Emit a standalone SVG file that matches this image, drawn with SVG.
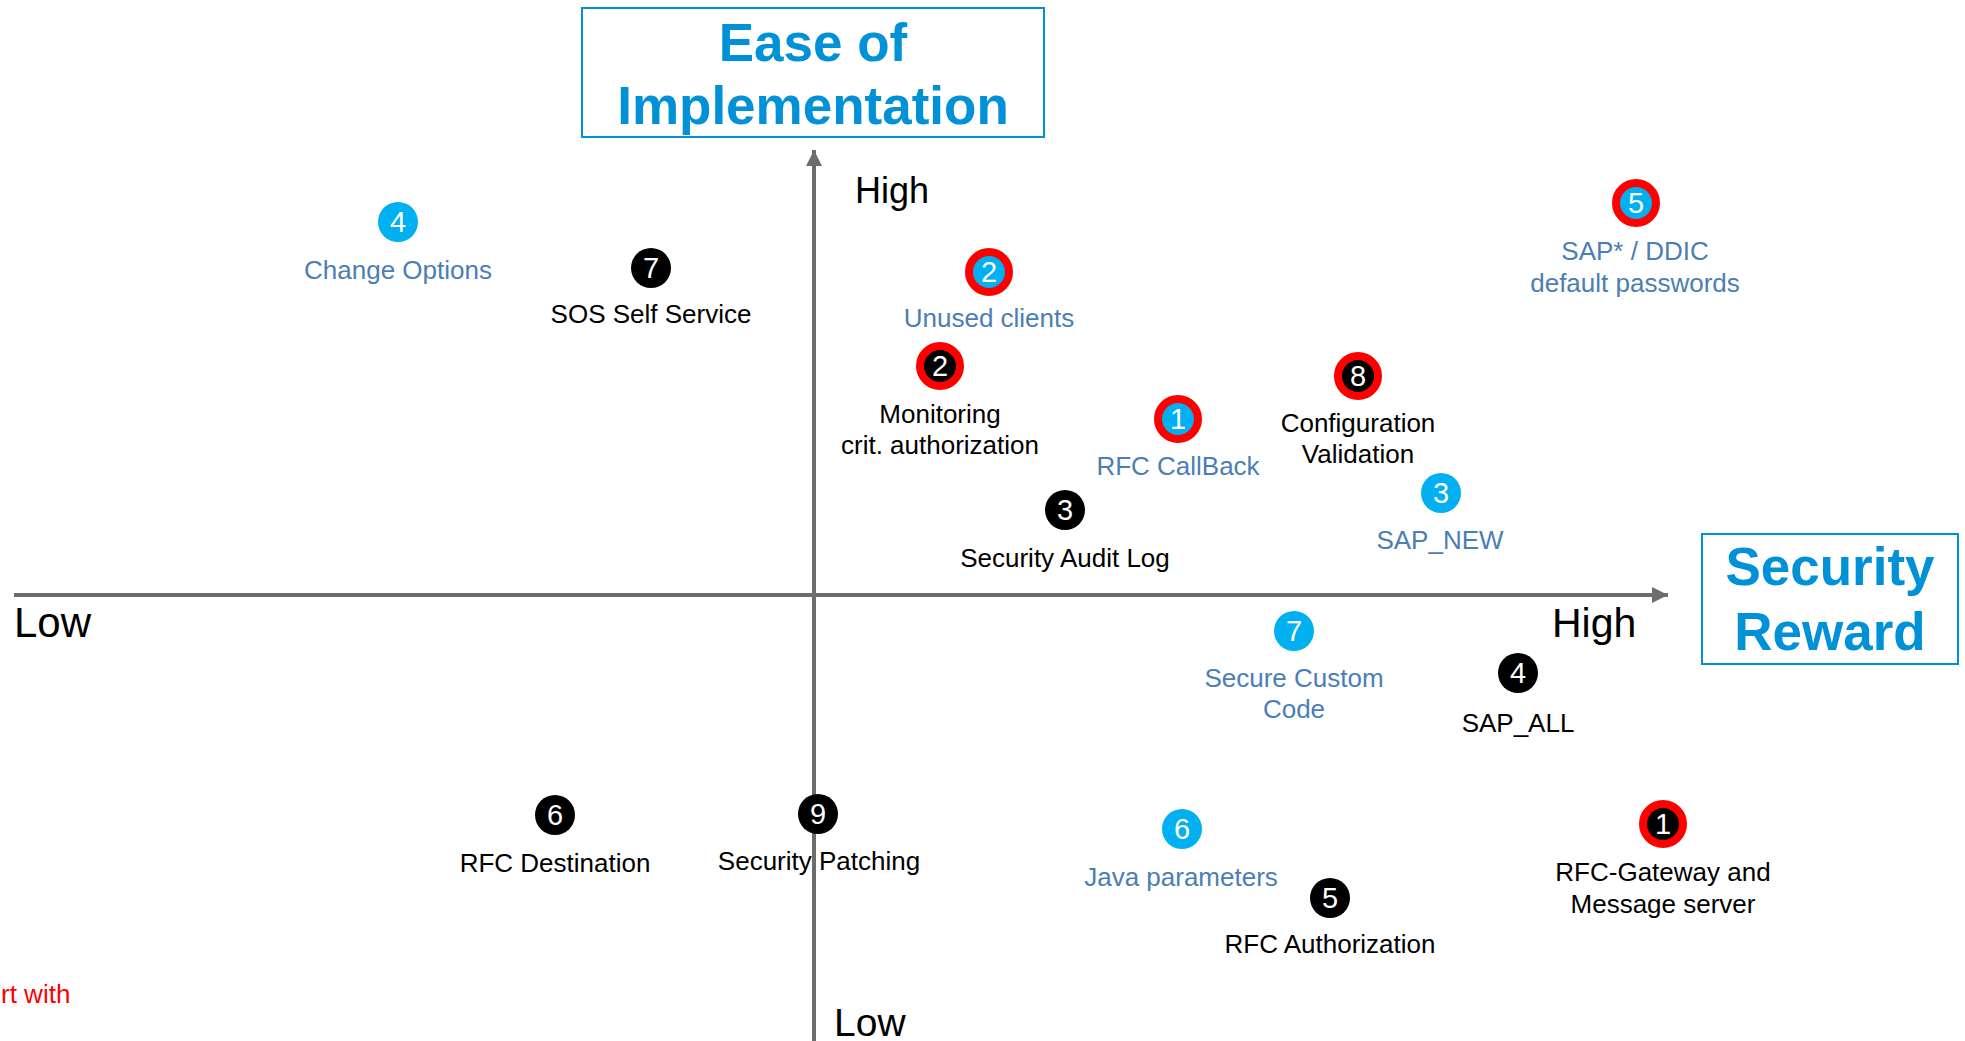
<svg xmlns="http://www.w3.org/2000/svg" width="1965" height="1041" viewBox="0 0 1965 1041">
<style>
text{font-family:"Liberation Sans",Arial,sans-serif}
.title{font-size:53px;font-weight:bold;fill:#0091D6;text-anchor:middle}
.tbox{fill:#fff;stroke:#0091D6;stroke-width:2}
.axis{stroke:#6D6D6D;stroke-width:4;fill:none}
.ax{font-size:38px;fill:#000}
.lb{font-size:26px;fill:#000;text-anchor:middle}
.lbb{font-size:26px;fill:#4A7EB5;text-anchor:middle}
.cb{fill:#00B0F0}
.ck{fill:#000}
.rb{fill:#00B0F0;stroke:#FF0000;stroke-width:8}
.rk{fill:#000;stroke:#FF0000;stroke-width:8}
.d{font-size:29px;fill:#fff;text-anchor:middle}
.red{font-size:26px;fill:#FF0000}
</style>
<defs>
<marker id="ah" viewBox="0 0 10 10" refX="10" refY="5" markerWidth="4" markerHeight="4" orient="auto" markerUnits="strokeWidth">
<path d="M0,0 L10,5 L0,10 Z" fill="#6D6D6D"/>
</marker>
</defs>
<rect width="1965" height="1041" fill="#fff"/>
<g id="connectors">
<line class="axis" x1="14" y1="595" x2="1668" y2="595" marker-end="url(#ah)"/>
<line class="axis" x1="814" y1="1041" x2="814" y2="150" marker-end="url(#ah)"/>
</g>
<g id="title-ease">
<rect class="tbox" x="582" y="8" width="462" height="129"/>
<text class="title" x="813" y="61">Ease of</text>
<text class="title" x="813" y="124">Implementation</text>
</g>
<g id="title-reward">
<rect class="tbox" x="1702" y="534" width="256" height="130"/>
<text class="title" x="1830" y="585">Security</text>
<text class="title" x="1830" y="650">Reward</text>
</g>
<g id="axis-labels">
<text class="ax" x="855" y="203" style="font-size:36px">High</text>
<text class="ax" x="1552" y="637" style="font-size:41px">High</text>
<text class="ax" x="14" y="637" style="font-size:42px">Low</text>
<text class="ax" x="834" y="1036" style="font-size:39px">Low</text>
</g>
<g id="n-change-options">
<circle class="cb" cx="398" cy="222" r="20"/>
<text class="d" x="398" y="232">4</text>
<text class="lbb" x="398" y="279">Change Options</text>
</g>
<g id="n-sos">
<circle class="ck" cx="651" cy="268" r="20"/>
<text class="d" x="651" y="278">7</text>
<text class="lb" x="651" y="323">SOS Self Service</text>
</g>
<g id="n-unused-clients">
<circle class="rb" cx="989" cy="272" r="20"/>
<text class="d" x="989" y="282">2</text>
<text class="lbb" x="989" y="327">Unused clients</text>
</g>
<g id="n-monitoring">
<circle class="rk" cx="940" cy="366" r="20"/>
<text class="d" x="940" y="376">2</text>
<text class="lb" x="940" y="423">Monitoring</text>
<text class="lb" x="940" y="454">crit. authorization</text>
</g>
<g id="n-rfc-callback">
<circle class="rb" cx="1178" cy="419" r="20"/>
<text class="d" x="1178" y="429">1</text>
<text class="lbb" x="1178" y="475">RFC CallBack</text>
</g>
<g id="n-audit-log">
<circle class="ck" cx="1065" cy="510" r="20"/>
<text class="d" x="1065" y="520">3</text>
<text class="lb" x="1065" y="567">Security Audit Log</text>
</g>
<g id="n-config-validation">
<circle class="rk" cx="1358" cy="376" r="20"/>
<text class="d" x="1358" y="386">8</text>
<text class="lb" x="1358" y="432">Configuration</text>
<text class="lb" x="1358" y="463">Validation</text>
</g>
<g id="n-sap-new">
<circle class="cb" cx="1441" cy="493" r="20"/>
<text class="d" x="1441" y="503">3</text>
<text class="lbb" x="1440" y="549">SAP_NEW</text>
</g>
<g id="n-default-passwords">
<circle class="rb" cx="1636" cy="203" r="20"/>
<text class="d" x="1636" y="213">5</text>
<text class="lbb" x="1635" y="260">SAP* / DDIC</text>
<text class="lbb" x="1635" y="292">default passwords</text>
</g>
<g id="n-secure-code">
<circle class="cb" cx="1294" cy="631" r="20"/>
<text class="d" x="1294" y="641">7</text>
<text class="lbb" x="1294" y="687">Secure Custom</text>
<text class="lbb" x="1294" y="718">Code</text>
</g>
<g id="n-sap-all">
<circle class="ck" cx="1518" cy="673" r="20"/>
<text class="d" x="1518" y="683">4</text>
<text class="lb" x="1518" y="732">SAP_ALL</text>
</g>
<g id="n-java">
<circle class="cb" cx="1182" cy="829" r="20"/>
<text class="d" x="1182" y="839">6</text>
<text class="lbb" x="1181" y="886">Java parameters</text>
</g>
<g id="n-rfc-auth">
<circle class="ck" cx="1330" cy="898" r="20"/>
<text class="d" x="1330" y="908">5</text>
<text class="lb" x="1330" y="953">RFC Authorization</text>
</g>
<g id="n-gateway">
<circle class="rk" cx="1663" cy="824" r="20"/>
<text class="d" x="1663" y="834">1</text>
<text class="lb" x="1663" y="881">RFC-Gateway and</text>
<text class="lb" x="1663" y="913">Message server</text>
</g>
<g id="n-rfc-destination">
<circle class="ck" cx="555" cy="815" r="20"/>
<text class="d" x="555" y="825">6</text>
<text class="lb" x="555" y="872">RFC Destination</text>
</g>
<g id="n-patching">
<text class="lb" x="819" y="870">Security Patching</text>
<circle class="ck" cx="818" cy="814" r="20"/>
<text class="d" x="818" y="824">9</text>
</g>
<g id="legend">
<text class="red" x="1" y="1003">rt with</text>
</g>
</svg>
